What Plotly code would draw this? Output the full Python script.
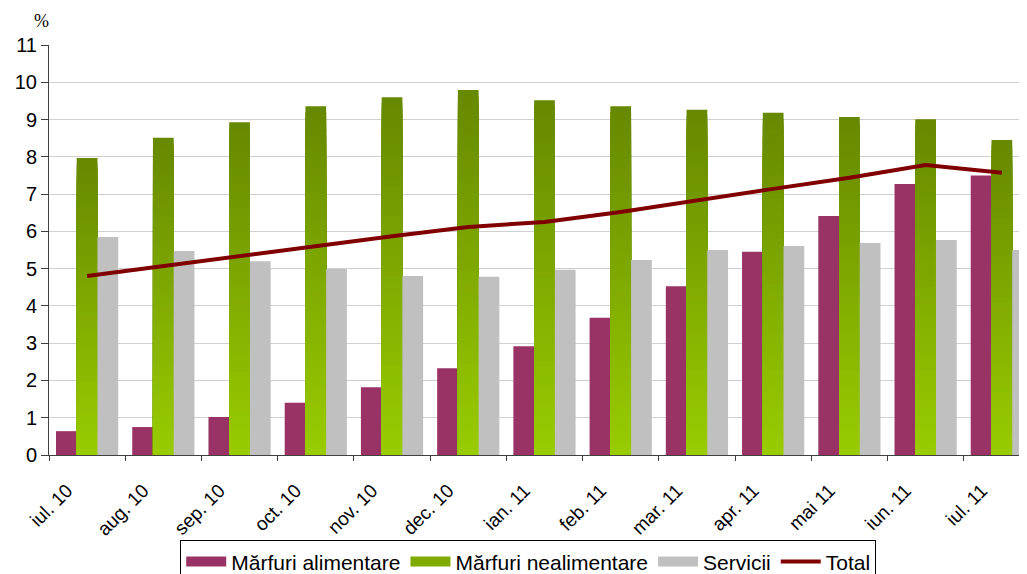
import plotly.graph_objects as go

categories = ["iul. 10", "aug. 10", "sep. 10", "oct. 10", "nov. 10", "dec. 10", "ian. 11",
              "feb. 11", "mar. 11", "apr. 11", "mai 11", "iun. 11", "iul. 11"]
alimentare = [0.64, 0.75, 1.02, 1.40, 1.82, 2.33, 2.92, 3.68, 4.53, 5.45, 6.41, 7.27, 7.50]
nealimentare = [7.97, 8.51, 8.93, 9.36, 9.60, 9.79, 9.52, 9.36, 9.26, 9.18, 9.07, 9.01, 8.45]
servicii = [5.85, 5.47, 5.20, 4.99, 4.80, 4.78, 4.97, 5.23, 5.50, 5.61, 5.69, 5.77, 5.50]
total = [4.80, 5.07, 5.32, 5.59, 5.87, 6.12, 6.25, 6.52, 6.84, 7.14, 7.44, 7.78, 7.57]

PURPLE = "#993366"
GRAY = "#C0C0C0"
RED = "#800000"
GREEN_TOP = (0x66, 0x88, 0x00)
GREEN_BOT = (0x99, 0xCC, 0x00)

W = 0.272
FONT = "Arial, Liberation Sans, sans-serif"

fig = go.Figure()

fig.add_trace(go.Bar(x=categories, y=alimentare, name="Mărfuri alimentare", showlegend=False,
                     marker=dict(color=PURPLE, line=dict(width=0)),
                     width=W, offset=-1.5 * W))

# gradient green bars: nested overlapping bars, tallest (darkest) first
N = 60
gx, gy, gc = [], [], []
for i in range(N):
    frac = (N - i) / N
    t = (N - i - 0.5) / N  # 1 top -> 0 bottom
    r = round(GREEN_BOT[0] + (GREEN_TOP[0] - GREEN_BOT[0]) * t)
    g = round(GREEN_BOT[1] + (GREEN_TOP[1] - GREEN_BOT[1]) * t)
    b = round(GREEN_BOT[2] + (GREEN_TOP[2] - GREEN_BOT[2]) * t)
    col = f"rgb({r},{g},{b})"
    for c, v in zip(categories, nealimentare):
        gx.append(c)
        gy.append(v * frac)
        gc.append(col)
fig.add_trace(go.Bar(x=gx, y=gy, name="Mărfuri nealimentare", showlegend=False,
                     hoverinfo="skip",
                     marker=dict(color=gc, line=dict(width=0)),
                     width=W, offset=-0.5 * W))

fig.add_trace(go.Bar(x=categories, y=servicii, name="Servicii", showlegend=False,
                     marker=dict(color=GRAY, line=dict(width=0)),
                     width=W, offset=0.5 * W))

fig.add_trace(go.Scatter(x=categories, y=total, name="Total", mode="lines", showlegend=False,
                         line=dict(color=RED, width=4)))

# legend entries (wide rectangle-like symbols via thick lines)
for name, col, lw in [("Mărfuri alimentare", PURPLE, 14),
                      ("Mărfuri nealimentare", "#80AA00", 14),
                      ("Servicii", GRAY, 14),
                      ("Total", RED, 4)]:
    fig.add_trace(go.Scatter(x=[None], y=[None], mode="lines", name=name,
                             line=dict(color=col, width=lw), showlegend=True))

fig.update_layout(
    width=1019, height=566,
    margin=dict(l=41, r=0, t=37, b=119, autoexpand=False),
    barmode="overlay",
    plot_bgcolor="white", paper_bgcolor="white",
    font=dict(family=FONT, color="#000000"),
    showlegend=True,
    legend=dict(orientation="h", x=0.49, xanchor="center", y=-0.208, yanchor="top",
                bordercolor="#000000", borderwidth=1, bgcolor="white",
                font=dict(size=21, family=FONT), traceorder="normal",
                itemwidth=40, tracegroupgap=0),
)

fig.update_xaxes(type="category", categoryorder="array", categoryarray=categories,
                 range=[-0.5, 12.33], showgrid=False, automargin=False,
                 showline=True, linecolor="#404040", linewidth=1,
                 ticks="outside", tickson="boundaries", ticklen=5, tickcolor="#404040",
                 tickangle=-45, tickfont=dict(size=19, family=FONT),
                 ticklabelstandoff=16, ticklabelshift=-20)

fig.update_yaxes(range=[0, 11], dtick=1, tick0=0, automargin=False,
                 showgrid=True, gridcolor="#D0D0D0", gridwidth=1,
                 showline=True, linecolor="#404040", linewidth=1,
                 ticks="outside", ticklen=7, tickcolor="#404040",
                 tickfont=dict(size=20, family=FONT), zeroline=False)

fig.add_annotation(text="%", xref="paper", yref="paper", x=-0.008, y=1.058,
                   xanchor="center", yanchor="middle", showarrow=False,
                   font=dict(family="Times New Roman, Liberation Serif, serif", size=18))

fig.write_html("out.html")
